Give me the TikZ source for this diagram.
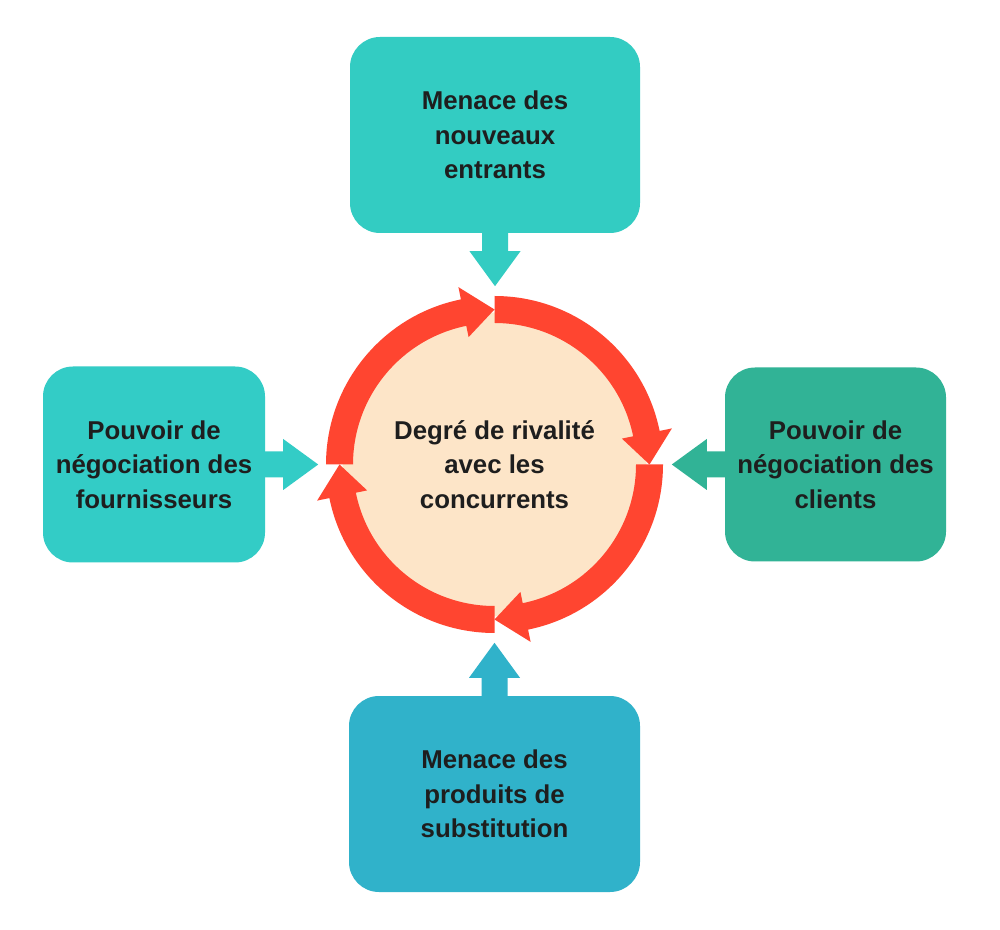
\documentclass[tikz,border=0pt]{standalone}
\usepackage{fontspec}
\setmainfont{Liberation Sans}
\definecolor{topc}{HTML}{33CCC2}
\definecolor{leftc}{HTML}{33CCC6}
\definecolor{rightc}{HTML}{31B396}
\definecolor{botc}{HTML}{30B2CA}
\definecolor{ringc}{HTML}{FF4530}
\definecolor{peach}{HTML}{FDE5C8}
\definecolor{textc}{HTML}{1E1E1E}
\tikzset{
  forcebox/.style={rounded corners=30pt, inner sep=0pt, align=center,
    text=textc, font=\bfseries\fontsize{25.8}{34.5}\selectfont},
  blockarrow/.style={fill=#1},
}
\newcommand{\myblockarrow}[3]{%
  \fill[blockarrow=#3, shift={(#1)}, rotate=#2]
    (0pt,-13pt) -- (18pt,-13pt) -- (18pt,-25.5pt) -- (53pt,0pt)
    -- (18pt,25.5pt) -- (18pt,13pt) -- (0pt,13pt) -- cycle;}
\begin{document}
\begin{tikzpicture}[x=1pt,y=1pt]
\fill[white] (0,0) rectangle (1000,929);
\useasboundingbox (0,0) rectangle (1000,929);

% boxes
\node[forcebox, fill=topc, minimum width=290pt, minimum height=196pt] (top) at (495,794)
  {Menace des\\nouveaux\\entrants};
\node[forcebox, fill=botc, minimum width=291pt, minimum height=196pt] (bot) at (494.5,135)
  {Menace des\\produits de\\substitution};
\node[forcebox, fill=leftc, minimum width=222pt, minimum height=196pt] (left) at (154,464.5)
  {Pouvoir de\\négociation des\\fournisseurs};
\node[forcebox, fill=rightc, minimum width=221pt, minimum height=194pt] (right) at (835.5,464.5)
  {Pouvoir de\\négociation des\\clients};

% central circle
\coordinate (c) at (494.5,464.5);
\fill[peach] (c) circle[radius=152pt];
\foreach \a in {90,0,-90,180}{
  \fill[ringc, shift={(c)}]
    (\a:168.5pt) arc[start angle=\a, end angle=\a-78.5, radius=168.5pt]
    -- ({\a-78.5}:181pt) -- ({\a-90}:155pt) -- ({\a-78.5}:130pt)
    -- ({\a-78.5}:141.5pt)
    arc[start angle=\a-78.5, end angle=\a, radius=141.5pt] -- cycle;
}
\node[forcebox] (core) at (c) {Degré de rivalité\\avec les\\concurrents};

% block arrows toward the centre
\myblockarrow{top.south}{-90}{topc}
\myblockarrow{bot.north}{90}{botc}
\myblockarrow{left.east}{0}{leftc}
\myblockarrow{right.west}{180}{rightc}
\end{tikzpicture}
\end{document}
